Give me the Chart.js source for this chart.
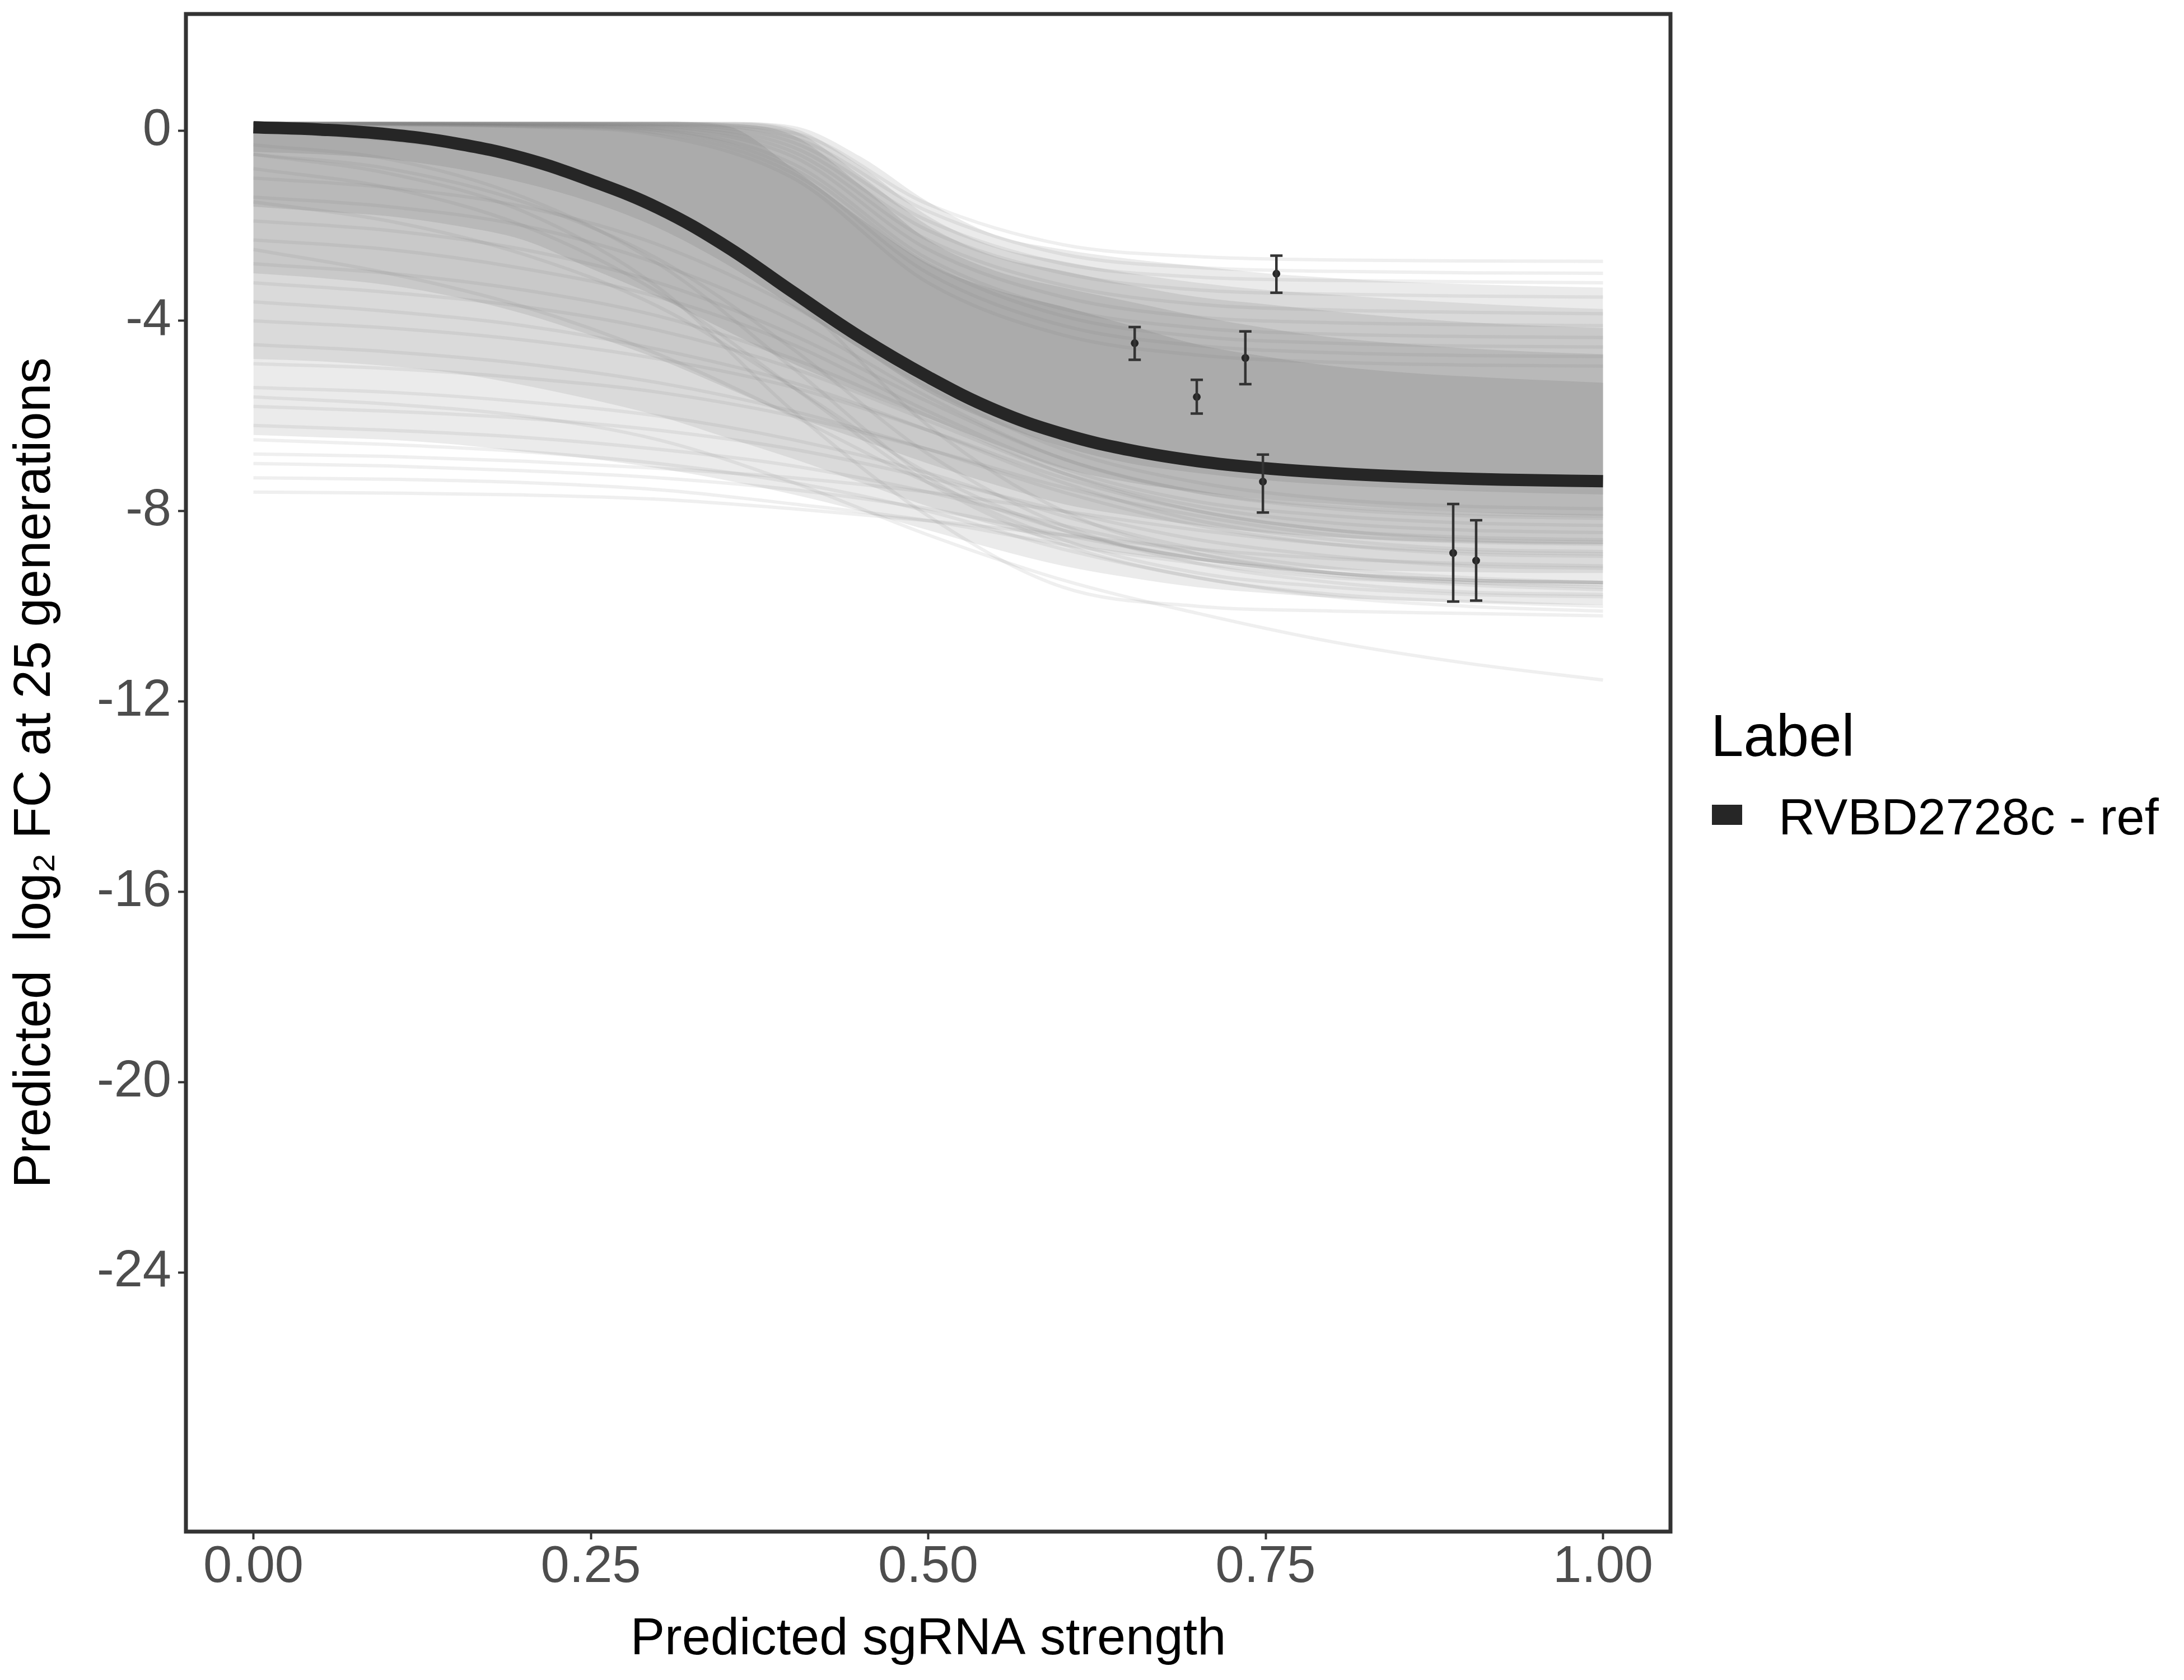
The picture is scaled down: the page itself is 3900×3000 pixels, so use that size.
<!DOCTYPE html>
<html>
<head>
<meta charset="utf-8">
<script src="https://cdn.jsdelivr.net/npm/chart.js"></script>
<style>
  html, body { margin: 0; padding: 0; background: #ffffff; }
  canvas { display: block; }
</style>
</head>
<body>
<canvas id="c" width="3900" height="3000" style="width:3900px;height:3000px"></canvas>
<script>
// ---------------- DATA ----------------
const xTickVals = [0, 0.25, 0.5, 0.75, 1];
const xTickLabels = ['0.00', '0.25', '0.50', '0.75', '1.00'];
const yTickVals = [0, -4, -8, -12, -16, -20, -24];
const yTickLabels = ['0', '-4', '-8', '-12', '-16', '-20', '-24'];

const xTitle = 'Predicted sgRNA strength';
const yTitle = 'Predicted  log\u2082 FC at 25 generations';
const legendTitle = 'Label';
const fitLabel = 'RVBD2728c - ref';

// fine x grid for fitted curve and density envelopes
const xGrid = [0, 0.05, 0.1, 0.15, 0.2, 0.25, 0.3, 0.35, 0.4, 0.45, 0.5, 0.55, 0.6, 0.65, 0.7, 0.75, 0.8, 0.85, 0.9, 0.95, 1];
// coarse x grid for individual posterior draws
const xCoarse = [0, 0.1, 0.2, 0.3, 0.4, 0.5, 0.6, 0.7, 0.8, 0.9, 1];

// fitted (reference) curve
const fitLine = [0.07, 0.02, -0.08, -0.27, -0.58, -1.05, -1.63, -2.43, -3.4, -4.35, -5.18, -5.88, -6.38, -6.72, -6.95, -7.1, -7.2, -7.27, -7.32, -7.35, -7.37];

// density envelopes of the posterior draws (dense core -> sparse outer)
const coreUpper  = [0.18, 0.18, 0.18, 0.18, 0.18, 0.18, 0.18, 0.1, -0.8, -1.85, -2.8, -3.35, -3.7, -4.1, -4.5, -4.75, -4.95, -5.08, -5.17, -5.24, -5.3];
const coreLower  = [-0.45, -0.5, -0.6, -0.8, -1.1, -1.5, -2.05, -2.8, -3.7, -4.6, -5.5, -6.15, -6.65, -7.0, -7.2, -7.35, -7.45, -7.52, -7.58, -7.62, -7.65];
const band2Upper = [0.18, 0.18, 0.18, 0.18, 0.18, 0.18, 0.18, 0.15, -0.1, -1.15, -2.3, -2.95, -3.3, -3.6, -3.9, -4.15, -4.35, -4.48, -4.58, -4.65, -4.7];
const band2Lower = [-1.6, -1.7, -1.8, -2.0, -2.3, -2.9, -3.5, -4.2, -4.9, -5.5, -6.05, -6.6, -7.1, -7.4, -7.6, -7.75, -7.85, -7.95, -8.02, -8.07, -8.1];
const band3Upper = [0.18, 0.18, 0.18, 0.18, 0.18, 0.18, 0.18, 0.17, 0.0, -0.95, -2.0, -2.65, -2.95, -3.25, -3.5, -3.65, -3.8, -3.93, -4.03, -4.1, -4.15];
const band3Lower = [-3.0, -3.1, -3.25, -3.5, -3.85, -4.3, -4.8, -5.4, -6.0, -6.5, -7.0, -7.45, -7.85, -8.1, -8.3, -8.45, -8.55, -8.62, -8.66, -8.69, -8.7];
const band4Upper = [0.18, 0.18, 0.18, 0.18, 0.18, 0.18, 0.18, 0.18, 0.05, -0.75, -1.8, -2.45, -2.75, -3.0, -3.2, -3.35, -3.45, -3.55, -3.63, -3.7, -3.75];
const band4Lower = [-4.8, -4.85, -4.95, -5.1, -5.35, -5.65, -6.0, -6.45, -6.9, -7.4, -7.9, -8.3, -8.65, -8.9, -9.05, -9.15, -9.22, -9.26, -9.28, -9.3, -9.3];
const band5Upper = [0.18, 0.18, 0.18, 0.18, 0.18, 0.18, 0.18, 0.18, 0.1, -0.55, -1.5, -2.2, -2.5, -2.7, -2.85, -3.0, -3.1, -3.18, -3.23, -3.27, -3.3];
const band5Lower = [-6.4, -6.45, -6.5, -6.6, -6.75, -6.9, -7.1, -7.35, -7.65, -8.0, -8.4, -8.8, -9.15, -9.4, -9.6, -9.72, -9.82, -9.88, -9.92, -9.95, -9.97];

// individual visible posterior draws (read on the coarse grid)
const drawsUpper = [
  [0.15, 0.15, 0.15, 0.14, -0.05, -1.55, -2.4, -2.65, -2.72, -2.74, -2.75],
  [0.15, 0.15, 0.15, 0.13, -0.15, -1.7, -2.6, -2.88, -2.96, -2.99, -3.0],
  [0.15, 0.15, 0.14, 0.12, -0.25, -1.9, -2.8, -3.08, -3.15, -3.18, -3.2],
  [0.15, 0.15, 0.14, 0.1, -0.35, -2.1, -3.0, -3.35, -3.44, -3.48, -3.5],
  [0.15, 0.15, 0.13, 0.08, -0.45, -2.3, -3.25, -3.65, -3.77, -3.82, -3.85],
  [0.15, 0.14, 0.12, 0.05, -0.55, -2.5, -3.5, -3.92, -4.04, -4.08, -4.1],
  [0.15, 0.14, 0.11, 0.02, -0.7, -2.7, -3.75, -4.15, -4.28, -4.33, -4.35],
  [0.15, 0.14, 0.1, 0.0, -0.8, -2.8, -3.9, -4.33, -4.47, -4.53, -4.55],
  [0.14, 0.13, 0.09, -0.05, -0.9, -3.0, -4.1, -4.52, -4.67, -4.73, -4.75],
  [0.14, 0.12, 0.08, -0.1, -1.0, -3.2, -4.3, -4.72, -4.87, -4.93, -4.95]
];
const drawsSteep = [
  [-5.6, -5.75, -6.0, -6.5, -7.4, -8.5, -9.45, -10.15, -10.75, -11.2, -11.55],
  [-0.5, -0.9, -1.7, -3.3, -5.9, -8.1, -9.6, -10.0, -10.1, -10.15, -10.2],
  [-0.3, -0.6, -1.4, -2.8, -5.0, -7.3, -8.6, -9.3, -9.6, -9.75, -9.8],
  [-0.8, -1.2, -2.0, -3.4, -5.4, -7.4, -8.7, -9.4, -9.75, -9.9, -10.0],
  [-0.5, -0.8, -1.5, -2.7, -4.6, -6.8, -8.3, -9.1, -9.5, -9.7, -9.75],
  [-1.5, -1.9, -2.6, -3.7, -5.4, -7.2, -8.4, -9.0, -9.3, -9.45, -9.5],
  [0.0, -0.2, -0.6, -1.6, -3.5, -6.2, -8.0, -8.9, -9.3, -9.45, -9.5],
  [-2.5, -3.0, -3.7, -4.7, -6.0, -7.4, -8.4, -9.0, -9.3, -9.45, -9.5]
];
const drawsLow = [
  [-7.6, -7.62, -7.66, -7.75, -7.95, -8.2, -8.5, -8.8, -9.0, -9.1, -9.15],
  [-7.3, -7.33, -7.4, -7.55, -7.85, -8.2, -8.7, -9.1, -9.4, -9.5, -9.55],
  [-7.0, -7.05, -7.15, -7.3, -7.55, -7.95, -8.5, -9.0, -9.35, -9.55, -9.65],
  [-6.8, -6.85, -6.95, -7.1, -7.3, -7.6, -8.0, -8.4, -8.7, -8.85, -8.9],
  [-6.5, -6.6, -6.75, -7.0, -7.4, -8.0, -8.8, -9.4, -9.8, -10.0, -10.1],
  [-6.2, -6.3, -6.45, -6.7, -7.05, -7.6, -8.3, -8.9, -9.3, -9.5, -9.6],
  [-5.8, -5.9, -6.05, -6.3, -6.7, -7.3, -8.0, -8.6, -8.95, -9.15, -9.2],
  [-5.4, -5.5, -5.7, -6.0, -6.5, -7.2, -8.1, -8.8, -9.2, -9.4, -9.5],
  [-4.9, -5.0, -5.2, -5.5, -6.0, -6.7, -7.5, -8.1, -8.5, -8.65, -8.7],
  [-4.5, -4.65, -4.9, -5.3, -5.9, -6.7, -7.6, -8.3, -8.7, -8.9, -8.95],
  [-4.0, -4.15, -4.4, -4.8, -5.4, -6.3, -7.3, -8.0, -8.4, -8.55, -8.6],
  [-3.6, -3.8, -4.1, -4.6, -5.3, -6.3, -7.4, -8.2, -8.6, -8.8, -8.85],
  [-3.2, -3.4, -3.7, -4.2, -5.0, -6.1, -7.2, -7.9, -8.25, -8.4, -8.45],
  [-2.8, -3.0, -3.35, -3.9, -4.8, -6.0, -7.2, -8.0, -8.4, -8.6, -8.65],
  [-2.3, -2.5, -2.9, -3.5, -4.5, -5.9, -7.1, -7.8, -8.1, -8.25, -8.3],
  [-1.9, -2.1, -2.5, -3.2, -4.3, -5.7, -6.9, -7.6, -7.95, -8.1, -8.15],
  [-1.4, -1.6, -2.0, -2.8, -4.0, -5.6, -6.9, -7.6, -7.9, -8.05, -8.1],
  [-1.0, -1.2, -1.6, -2.4, -3.7, -5.4, -6.7, -7.4, -7.75, -7.9, -7.95]
];

// observed guides with error bars
const obsX  = [0.653, 0.699, 0.735, 0.758, 0.748, 0.889, 0.906];
const obsY  = [-4.47, -5.60, -4.78, -3.01, -7.38, -8.88, -9.04];
const obsLo = [-4.82, -5.95, -5.33, -3.41, -8.03, -9.90, -9.88];
const obsHi = [-4.13, -5.24, -4.22, -2.63, -6.81, -7.85, -8.19];

// ---------------- CHART ----------------
const FONT = '"Liberation Sans", Arial, Helvetica, sans-serif';
Chart.defaults.font.family = FONT;

function xy(xs, ys) { return xs.map((x, i) => ({ x: x, y: ys[i] })); }

const datasets = [];
function addBand(upper, lower, color, order) {
  const iU = datasets.length;
  datasets.push({ label: '', data: xy(xGrid, upper), fill: iU + 1, backgroundColor: color,
    borderColor: 'rgba(0,0,0,0)', borderWidth: 0, pointRadius: 0, cubicInterpolationMode: 'monotone', order: order });
  datasets.push({ label: '', data: xy(xGrid, lower), fill: false, backgroundColor: color,
    borderColor: 'rgba(0,0,0,0)', borderWidth: 0, pointRadius: 0, cubicInterpolationMode: 'monotone', order: order });
}
addBand(band5Upper, band5Lower, '#ebebeb', 110);
addBand(band4Upper, band4Lower, '#dadada', 100);
addBand(band3Upper, band3Lower, '#c9c9c9', 90);
addBand(band2Upper, band2Lower, '#b9b9b9', 80);
addBand(coreUpper, coreLower, '#ababab', 70);

[].concat(drawsUpper, drawsSteep, drawsLow).forEach(d => {
  datasets.push({ label: '', data: xy(xCoarse, d), fill: false, borderColor: 'rgba(120,120,120,0.12)',
    borderWidth: 6, pointRadius: 0, cubicInterpolationMode: 'monotone', order: 50 });
});

const fitIndex = datasets.length;
datasets.push({ label: fitLabel, data: xy(xGrid, fitLine), fill: false, borderColor: '#262626',
  borderWidth: 22, pointRadius: 0, tension: 0.4, borderCapStyle: 'butt', order: 10 });

datasets.push({ label: '', data: xy(obsX, obsY), showLine: false, fill: false, pointRadius: 7,
  pointBackgroundColor: '#262626', pointBorderWidth: 0, borderColor: 'rgba(0,0,0,0)', order: 5 });

const errorBars = {
  id: 'errorBars',
  afterDatasetsDraw(chart) {
    const { ctx, scales } = chart;
    const sx = scales.x, sy = scales.y;
    ctx.save();
    ctx.strokeStyle = '#333333';
    ctx.lineWidth = 4.5;
    ctx.lineCap = 'butt';
    obsX.forEach((v, i) => {
      const px = sx.getPixelForValue(v);
      const lo = sy.getPixelForValue(obsLo[i]);
      const hi = sy.getPixelForValue(obsHi[i]);
      ctx.beginPath();
      ctx.moveTo(px, lo); ctx.lineTo(px, hi);
      ctx.moveTo(px - 11, lo); ctx.lineTo(px + 11, lo);
      ctx.moveTo(px - 11, hi); ctx.lineTo(px + 11, hi);
      ctx.stroke();
    });
    ctx.restore();
  }
};

const panelAndLegend = {
  id: 'panelAndLegend',
  afterDraw(chart) {
    const { ctx, chartArea } = chart;
    ctx.save();
    ctx.strokeStyle = '#333333';
    ctx.lineWidth = 7;
    ctx.strokeRect(chartArea.left, chartArea.top, chartArea.right - chartArea.left, chartArea.bottom - chartArea.top);
    // legend
    ctx.fillStyle = '#000000';
    ctx.textAlign = 'left';
    ctx.textBaseline = 'alphabetic';
    ctx.font = '105px ' + FONT;
    ctx.fillText(legendTitle, 3055, 1350);
    ctx.fillStyle = chart.data.datasets[fitIndex].borderColor;
    ctx.fillRect(3057, 1437, 54, 36);
    ctx.fillStyle = '#000000';
    ctx.font = '90px ' + FONT;
    ctx.fillText(chart.data.datasets[fitIndex].label, 3176, 1490);
    ctx.restore();
  }
};

new Chart(document.getElementById('c'), {
  type: 'line',
  data: { datasets: datasets },
  options: {
    responsive: false,
    devicePixelRatio: 1,
    animation: false,
    events: [],
    layout: { padding: { left: 0, top: 25, right: 917, bottom: 0 } },
    plugins: {
      legend: { display: false },
      tooltip: { enabled: false },
      filler: { propagate: false }
    },
    scales: {
      x: {
        type: 'linear',
        min: -0.05, max: 1.05,
        afterFit(s) { s.height = 265; s.paddingLeft = 0; s.paddingRight = 0; },
        afterBuildTicks(s) { s.ticks = xTickVals.map(v => ({ value: v })); },
        grid: { display: true, drawOnChartArea: false, drawTicks: true, tickLength: 14, tickColor: '#333333', tickWidth: 4 },
        border: { display: false },
        ticks: {
          autoSkip: false, maxRotation: 0, padding: 4.5, color: '#4d4d4d',
          font: { size: 92, lineHeight: 1 },
          callback: (v, i) => xTickLabels[i]
        },
        title: { display: true, text: xTitle, color: '#000000', font: { size: 92, lineHeight: 1.2 }, padding: { top: 0, bottom: 16 } }
      },
      y: {
        type: 'linear',
        min: -29.45, max: 2.45,
        afterFit(s) { s.width = 332; s.paddingTop = 0; s.paddingBottom = 0; },
        afterBuildTicks(s) { s.ticks = yTickVals.map(v => ({ value: v })); },
        grid: { display: true, drawOnChartArea: false, drawTicks: true, tickLength: 14, tickColor: '#333333', tickWidth: 4 },
        border: { display: false },
        ticks: {
          autoSkip: false, padding: 12, color: '#4d4d4d',
          font: { size: 92, lineHeight: 1 },
          callback: (v, i) => yTickLabels[i]
        },
        title: { display: true, text: yTitle, color: '#000000', font: { size: 92, lineHeight: 1.2 }, padding: { top: 8, bottom: 0 } }
      }
    }
  },
  plugins: [errorBars, panelAndLegend]
});
</script>
</body>
</html>
